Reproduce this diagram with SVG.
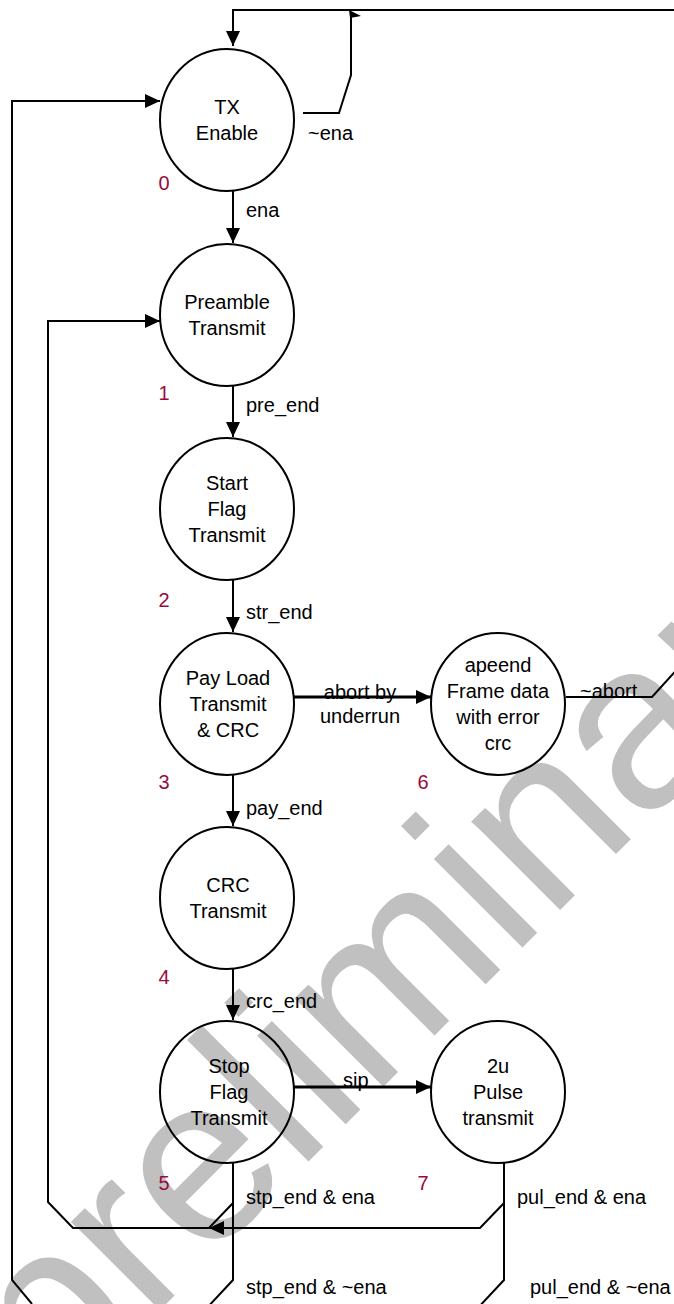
<svg xmlns="http://www.w3.org/2000/svg" width="674" height="1304" viewBox="0 0 674 1304">
<defs>
<style>
.node{fill:none;stroke:#000;stroke-width:2}
.ln{fill:none;stroke:#000;stroke-width:2}
.thick{stroke-width:3}
.t{font-family:"Liberation Sans",Arial,sans-serif;font-size:20px;fill:#000}
.c{text-anchor:middle}
.num{font-family:"Liberation Sans",Arial,sans-serif;font-size:20px;fill:#9b0a3c;text-anchor:middle}
.wm{font-family:"Liberation Sans",Arial,sans-serif;font-size:237px;fill:#c0c0c0}
</style>
<marker id="ah" viewBox="0 0 15 14" refX="15" refY="7" markerWidth="15" markerHeight="14" markerUnits="userSpaceOnUse" orient="auto"><path d="M0,0 L15,7 L0,14 Z" fill="#000"/></marker>
</defs>
<rect width="674" height="1304" fill="#fff"/>
<text class="wm" x="55" y="1415" transform="rotate(-45 55 1415)">preliminary</text>

<g id="connectors">
<path class="ln" d="M700,10 L233,10 L233,46" marker-end="url(#ah)"/>
<path class="ln" d="M303,113 L339,113 L351,75 L351,12"/>
<polygon points="349,10 361,16 350,18" fill="#000"/>
<path class="ln" d="M233,191 L233,243" marker-end="url(#ah)"/>
<path class="ln" d="M233,386 L233,437" marker-end="url(#ah)"/>
<path class="ln" d="M233,579 L233,632" marker-end="url(#ah)"/>
<path class="ln" d="M233,774 L233,826" marker-end="url(#ah)"/>
<path class="ln" d="M233,968 L233,1020" marker-end="url(#ah)"/>
<path class="ln thick" d="M294,697 L431,697" marker-end="url(#ah)"/>
<path class="ln" d="M566,697 L652,697 L690,655"/>
<path class="ln thick" d="M294,1087 L431,1087" marker-end="url(#ah)"/>
<path class="ln" d="M32,1304 L12,1280 L12,101 L160,101" marker-end="url(#ah)"/>
<path class="ln" d="M233,1163 L233,1203 L209,1228 L73,1228 L48,1202 L48,321 L160,321" marker-end="url(#ah)"/>
<path class="ln" d="M504,1163 L504,1203 L480,1228 L209,1228" marker-end="url(#ah)"/>
<path class="ln" d="M233,1203 L233,1280 L205,1310"/>
<path class="ln" d="M504,1203 L504,1280 L476,1310"/>
<text class="t" x="308" y="140">~ena</text>
<text class="t" x="246" y="217">ena</text>
<text class="t" x="246" y="412">pre_end</text>
<text class="t" x="246" y="619">str_end</text>
<text class="t" x="246" y="815">pay_end</text>
<text class="t" x="246" y="1008">crc_end</text>
<text class="t c" x="360" y="699">abort by</text>
<text class="t c" x="360" y="723">underrun</text>
<text class="t" x="580" y="698">~abort</text>
<text class="t" x="343" y="1087">sip</text>
<text class="t" x="246" y="1204">stp_end &amp; ena</text>
<text class="t" x="246" y="1294">stp_end &amp; ~ena</text>
<text class="t" x="517" y="1204">pul_end &amp; ena</text>
<text class="t" x="530" y="1294">pul_end &amp; ~ena</text>
</g>

<g id="s0">
<ellipse class="node" cx="227" cy="120" rx="67" ry="71"/>
<text class="t c" x="227" y="114">TX</text>
<text class="t c" x="227" y="140">Enable</text>
<text class="num" x="164" y="190">0</text>
</g>
<g id="s1">
<ellipse class="node" cx="227" cy="315" rx="67" ry="71"/>
<text class="t c" x="227" y="309">Preamble</text>
<text class="t c" x="227" y="335">Transmit</text>
<text class="num" x="164" y="400">1</text>
</g>
<g id="s2">
<ellipse class="node" cx="227" cy="509" rx="67" ry="71"/>
<text class="t c" x="227" y="490">Start</text>
<text class="t c" x="227" y="516">Flag</text>
<text class="t c" x="227" y="542">Transmit</text>
<text class="num" x="164" y="607">2</text>
</g>
<g id="s3">
<ellipse class="node" cx="227" cy="704" rx="67" ry="71"/>
<text class="t c" x="228" y="685">Pay Load</text>
<text class="t c" x="228" y="711">Transmit</text>
<text class="t c" x="228" y="737">&amp; CRC</text>
<text class="num" x="164" y="789">3</text>
</g>
<g id="s4">
<ellipse class="node" cx="227" cy="898" rx="67" ry="71"/>
<text class="t c" x="228" y="892">CRC</text>
<text class="t c" x="228" y="918">Transmit</text>
<text class="num" x="164" y="984">4</text>
</g>
<g id="s5">
<ellipse class="node" cx="227" cy="1092" rx="67" ry="71"/>
<text class="t c" x="229" y="1073">Stop</text>
<text class="t c" x="229" y="1099">Flag</text>
<text class="t c" x="229" y="1125">Transmit</text>
<text class="num" x="164" y="1190">5</text>
</g>
<g id="s6">
<ellipse class="node" cx="498" cy="704" rx="67" ry="71"/>
<text class="t c" x="498" y="672">apeend</text>
<text class="t c" x="498" y="698">Frame data</text>
<text class="t c" x="498" y="724">with error</text>
<text class="t c" x="498" y="750">crc</text>
<text class="num" x="423" y="789">6</text>
</g>
<g id="s7">
<ellipse class="node" cx="498" cy="1092" rx="67" ry="71"/>
<text class="t c" x="498" y="1073">2u</text>
<text class="t c" x="498" y="1099">Pulse</text>
<text class="t c" x="498" y="1125">transmit</text>
<text class="num" x="423" y="1190">7</text>
</g>
</svg>
